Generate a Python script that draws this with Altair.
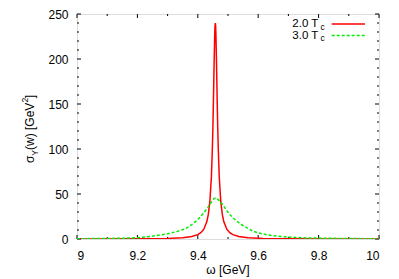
import altair as alt
import pandas as pd

red_x = [9.00, 9.10, 9.20, 9.25, 9.30, 9.35, 9.38, 9.40, 9.41, 9.42, 9.43, 9.435, 9.44, 9.445, 9.448,
         9.45, 9.451, 9.453, 9.454, 9.456, 9.457, 9.458, 9.459, 9.460, 9.462, 9.463, 9.465, 9.466,
         9.468, 9.471, 9.476, 9.481, 9.486, 9.496, 9.506, 9.516, 9.536, 9.566, 9.616, 9.666, 9.716,
         9.816, 9.916, 10.0]
red_y = [0.08, 0.13, 0.25, 0.38, 0.66, 1.4, 2.7, 4.8, 7.0, 10.9, 19.4, 27.7, 42, 69, 98,
         124, 140, 176, 195, 227, 237, 240, 237, 227, 195, 176, 140, 124,
         98, 69, 42, 27.7, 19.4, 10.9, 7.0, 4.8, 2.7, 1.4, 0.66, 0.38, 0.25,
         0.13, 0.08, 0.06]

green_x = [9.00, 9.10, 9.15, 9.20, 9.25, 9.30, 9.33, 9.36, 9.38, 9.40, 9.42, 9.435, 9.445, 9.452,
           9.458, 9.465, 9.475, 9.485, 9.495, 9.505, 9.52, 9.54, 9.56, 9.58, 9.60, 9.63, 9.66,
           9.70, 9.75, 9.80, 9.90, 10.0]
green_y = [0.3, 0.6, 0.8, 1.4, 3.2, 5.8, 8.2, 11.5, 16, 21.5, 29, 36, 41, 44.5,
           45.5, 44.5, 41.5, 37, 32, 27.5, 22.5, 17, 13, 9.2, 6.8, 4.6, 3.3,
           2.1, 1.3, 1.0, 0.5, 0.3]

legend_main = ["2.0 T", "3.0 T"]
legend_sub = "c"
x_title = "ω [GeV]"
y_title_parts = ["σ", "Υ", "(w) [GeV", "2", "]"]

x_ticks = [9.0, 9.2, 9.4, 9.6, 9.8, 10.0]
x_minor = [9.1, 9.3, 9.5, 9.7, 9.9]
y_ticks = [0, 50, 100, 150, 200, 250]
y_minor = [10, 20, 30, 40, 60, 70, 80, 90, 110, 120, 130, 140, 160, 170, 180, 190,
           210, 220, 230, 240]

W, H = 302, 225
FONT = "Liberation Sans"

xscale = alt.Scale(domain=[9, 10], nice=False, zero=False)
yscale = alt.Scale(domain=[0, 250], nice=False)

xaxis = alt.Axis(values=x_ticks, format="~g", title=None, ticks=False, domain=False,
                 grid=False, labelPadding=11, labelFontSize=12, labelFont=FONT,
                 labelColor="black")
yaxis = alt.Axis(values=y_ticks, title=None, ticks=False, domain=False, grid=False,
                 labelPadding=9, labelFontSize=12, labelFont=FONT, labelColor="black")

red_df = pd.DataFrame({"x": red_x, "y": red_y})
green_df = pd.DataFrame({"x": green_x, "y": green_y})

red_line = alt.Chart(red_df).mark_line(color="#ff0000", strokeWidth=1.5, clip=True).encode(
    x=alt.X("x:Q", scale=xscale, axis=xaxis), y=alt.Y("y:Q", scale=yscale, axis=yaxis))
green_line = alt.Chart(green_df).mark_line(color="#00ee00", strokeWidth=1.5, strokeDash=[3, 2],
                                           clip=True).encode(
    x=alt.X("x:Q", scale=xscale, axis=xaxis), y=alt.Y("y:Q", scale=yscale, axis=yaxis))


def xtick_layer(vals, length):
    df = pd.DataFrame({"x": vals})
    bot = alt.Chart(df).mark_rule(color="black", strokeWidth=1).encode(
        x=alt.X("x:Q", scale=xscale, axis=xaxis), y=alt.value(H), y2=alt.value(H - length))
    top = alt.Chart(df).mark_rule(color="black", strokeWidth=1).encode(
        x=alt.X("x:Q", scale=xscale, axis=xaxis), y=alt.value(0), y2=alt.value(length))
    return [bot, top]


def ytick_layer(vals, length):
    df = pd.DataFrame({"y": vals})
    left = alt.Chart(df).mark_rule(color="black", strokeWidth=1).encode(
        y=alt.Y("y:Q", scale=yscale, axis=yaxis), x=alt.value(0), x2=alt.value(length))
    right = alt.Chart(df).mark_rule(color="black", strokeWidth=1).encode(
        y=alt.Y("y:Q", scale=yscale, axis=yaxis), x=alt.value(W), x2=alt.value(W - length))
    return [left, right]


def text(t, x, y, size=12, align="left", angle=0):
    df = pd.DataFrame({"t": [t]})
    kw = dict(align=align, baseline="alphabetic", fontSize=size, font=FONT, color="black")
    if angle:
        kw["angle"] = angle
    return alt.Chart(df).mark_text(**kw).encode(text="t:N", x=alt.value(x), y=alt.value(y))


layers = []
layers += xtick_layer(x_ticks, 4) + xtick_layer(x_minor, 2)
layers += ytick_layer(y_ticks, 4) + ytick_layer(y_minor, 2)
layers += [red_line, green_line]

# legend
leg_rows = [(13.3, 10.0, "#ff0000", [1, 0]), (24.6, 21.5, "#00ee00", [3, 2])]
for lbl, (ty, ly, col, dash) in zip(legend_main, leg_rows):
    layers.append(text(lbl, 241.3, ty, size=11.5, align="right"))
    layers.append(text(legend_sub, 243.5, ty + 2.6, size=8.5))
    layers.append(alt.Chart(pd.DataFrame({"t": [lbl]})).mark_rule(
        color=col, strokeWidth=1.5, strokeDash=dash).encode(
        x=alt.value(254.7), x2=alt.value(288), y=alt.value(ly)))

# axis titles
layers.append(text(x_title, 151, 259.5, align="center"))
ypos = [149, 141.8, 136, 88.6, 84.2]
xpos = [-43, -39.5, -43, -49.5, -43]
sizes = [12, 8.5, 12, 8.5, 12]
for part, yy, xx, s in zip(y_title_parts, ypos, xpos, sizes):
    layers.append(text(part, xx, yy, size=s, angle=270))

chart = alt.layer(*layers).properties(
    width=W, height=H,
    autosize=alt.AutoSizeParams(type="none"),
    padding={"left": 69, "top": 6, "right": 10, "bottom": 38},
).configure_view(stroke="black", strokeWidth=1).configure(background="white")

chart.save("out.html", embed_options={"renderer": "svg", "actions": False})
